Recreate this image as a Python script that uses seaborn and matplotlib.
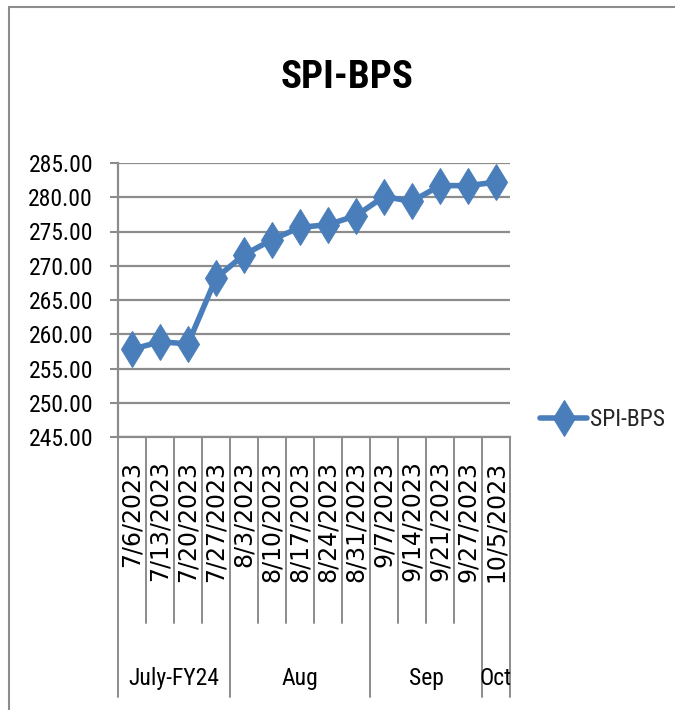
import matplotlib
matplotlib.use("Agg")
import matplotlib.pyplot as plt
import seaborn as sns
import pandas as pd
import numpy as np
from matplotlib.patches import Rectangle

dates = ["7/6/2023", "7/13/2023", "7/20/2023", "7/27/2023",
         "8/3/2023", "8/10/2023", "8/17/2023", "8/24/2023", "8/31/2023",
         "9/7/2023", "9/14/2023", "9/21/2023", "9/27/2023", "10/5/2023"]
values = [257.8, 258.9, 258.6, 268.2, 271.6, 273.8, 275.6, 276.0, 277.3,
          280.1, 279.4, 281.7, 281.7, 282.2]
groups = ["July-FY24", "Aug", "Sep", "Oct"]
group_sizes = [4, 5, 4, 1]
series_name = "SPI-BPS"
yticks = [245, 250, 255, 260, 265, 270, 275, 280, 285]

sns.set_theme(style="white")
narrow = ["Liberation Sans Narrow", "Roboto Condensed", "Open Sans Condensed",
          "Liberation Sans", "DejaVu Sans"]
plt.rcParams["font.family"] = narrow

LINE = "#4A7EBB"
GRID = "#8C8C8C"

fig = plt.figure(figsize=(6.75, 7.1), dpi=100)
ax = fig.add_axes([118/675, 1-437/710, (510-118)/675, (437-163)/710])

df = pd.DataFrame({"date": dates, "value": values, "series": series_name})
sns.lineplot(data=df, x="date", y="value", sort=False, ax=ax,
             color=LINE, linewidth=4.0, marker="d", markersize=18,
             markeredgecolor=LINE, markerfacecolor=LINE, label=series_name,
             legend=False)

n = len(dates)
ax.set_xlim(-0.5, n - 0.5)
ax.set_ylim(245, 285)
ax.set_yticks(yticks)
ax.set_yticklabels([f"{v:.2f}" for v in yticks], fontsize=17, color="black")
ax.yaxis.grid(True, color=GRID, linewidth=1.6)
ax.xaxis.grid(False)
ax.set_xlabel("")
ax.set_ylabel("")
ax.tick_params(axis="y", length=6, width=1.5, color=GRID, pad=12, left=True)
ax.tick_params(axis="x", length=0, pad=17)
ax.set_xticks(range(n))
ax.set_xticklabels(dates, rotation=90, va="top", ha="center",
                   fontsize=17, family="DejaVu Sans", color="black")
for s in ["top", "right"]:
    ax.spines[s].set_visible(False)
for s in ["left", "bottom"]:
    ax.spines[s].set_color(GRID)
    ax.spines[s].set_linewidth(1.6)

trans = ax.get_xaxis_transform()
bounds = np.cumsum([0] + group_sizes)
long_edges = set(bounds.tolist())
for i in range(n + 1):
    x = i - 0.5
    y0 = -0.949 if i in long_edges else -0.679
    ax.plot([x, x], [0, y0], transform=trans, color=GRID, linewidth=1.4,
            clip_on=False)
for g, a, b in zip(groups, bounds[:-1], bounds[1:]):
    ax.text((a + b - 1) / 2, -0.88, g, transform=trans, ha="center",
            va="center", fontsize=17, color="black")

fig.text(347/675, 1-78/710, "SPI-BPS", ha="center", va="center",
         fontsize=28, fontweight="bold", color="black")

handles, labels = ax.get_legend_handles_labels()
leg = fig.legend(handles, labels, loc="center left",
                 bbox_to_anchor=(540/675, 1-420/710), frameon=False,
                 fontsize=17, handlelength=2.0, handletextpad=0.1,
                 borderpad=0, borderaxespad=0)

fig.patches.append(Rectangle((9/675, -0.1), 1.2, 1 - 7/710 + 0.1,
                             transform=fig.transFigure, fill=False,
                             edgecolor=GRID, linewidth=1.5))

fig.savefig("out.png", dpi=100)
